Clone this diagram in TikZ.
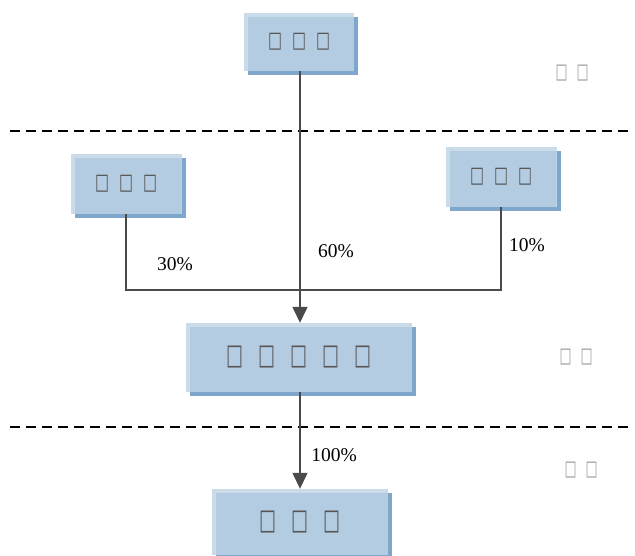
\documentclass[tikz,border=0pt]{standalone}
\usepackage{fontspec}
\setmainfont{Liberation Serif}
\newfontfamily\symfont{DejaVu Sans}
\usetikzlibrary{arrows.meta,shadows}
\definecolor{boxlight}{HTML}{CADCEA}
\definecolor{boxmid}{HTML}{B4CCE2}
\definecolor{boxdark}{HTML}{7FA7CB}
\definecolor{linegray}{HTML}{4A4A4A}
\definecolor{tofugray}{HTML}{555555}
\definecolor{sidegray}{HTML}{999999}
% one missing-glyph box: cell width, glyph width, glyph height
\newcommand{\tofu}[3]{\makebox[#1]{\resizebox*{#2}{#3}{□}}}
\newcommand{\stofu}{\tofu{24pt}{14pt}{17pt}}
\newcommand{\btofu}{\tofu{32pt}{17pt}{22pt}}
\newcommand{\ltofu}{\tofu{21pt}{12pt}{16pt}}
\begin{document}
\begin{tikzpicture}[x=1pt,y=-1pt,
  layerbox/.style={rectangle, inner sep=0pt, fill=boxlight,
    general shadow={fill=boxdark, shadow xshift=4pt, shadow yshift=-4pt},
    path picture={\fill[boxmid] ([xshift=4pt,yshift=-4pt]path picture bounding box.north west) rectangle (path picture bounding box.south east);},
    text=tofugray, font=\symfont},
  sidelabel/.style={text=sidegray, font=\symfont, inner sep=0pt},
  pct/.style={font=\fontsize{19.5}{20}\selectfont, text=black},
  conn/.style={draw=linegray, line width=1.4pt},
  arrowconn/.style={conn, -{Triangle[width=15pt,length=16pt]}},
  divider/.style={draw=black, line width=1.1pt, dash pattern=on 10pt off 6pt}]
\useasboundingbox (0,0) rectangle (635,556);

% boxes
\node[layerbox, minimum width=110pt, minimum height=58pt] (A) at (299,42) {\stofu\stofu\stofu\hspace{5pt}};
\node[layerbox, minimum width=111pt, minimum height=60pt] (B) at (126,184) {\stofu\stofu\stofu\hspace{7pt}};
\node[layerbox, minimum width=111pt, minimum height=60pt] (C) at (501,177) {\stofu\stofu\stofu\hspace{7pt}};
\node[layerbox, minimum width=226pt, minimum height=69pt] (D) at (299,357.5) {\btofu\btofu\btofu\btofu\btofu\hspace{8pt}};
\node[layerbox, minimum width=176pt, minimum height=66pt] (E) at (300,522) {\btofu\btofu\btofu\hspace{9pt}};

% side labels
\node[sidelabel] (s1) at (572,73) {\ltofu\ltofu};
\node[sidelabel] (s2) at (576,357) {\ltofu\ltofu};
\node[sidelabel] (s3) at (581,470) {\ltofu\ltofu};

% dividers
\coordinate (d1l) at (10,131);
\coordinate (d1r) at (633,131);
\coordinate (d2l) at (10,427);
\coordinate (d2r) at (633,427);
\draw[divider] (d1l) -- (d1r);
\draw[divider] (d2l) -- (d2r);

% connectors
\coordinate (jl) at (126,290);
\coordinate (jr) at (501,290);
\coordinate (ta) at (300,71);
\draw[conn] (B.south) -- (jl) -- (jr) -- (C.south);
\draw[arrowconn] (A.south -| ta) -- (D.north -| ta);
\draw[arrowconn] (D.south -| ta) -- (E.north -| ta);

% percentages
\node[pct] (p30) at (175,264) {30\%};
\node[pct] (p60) at (336,251) {60\%};
\node[pct] (p10) at (527,245) {10\%};
\node[pct] (p100) at (334,455) {100\%};
\end{tikzpicture}
\end{document}
